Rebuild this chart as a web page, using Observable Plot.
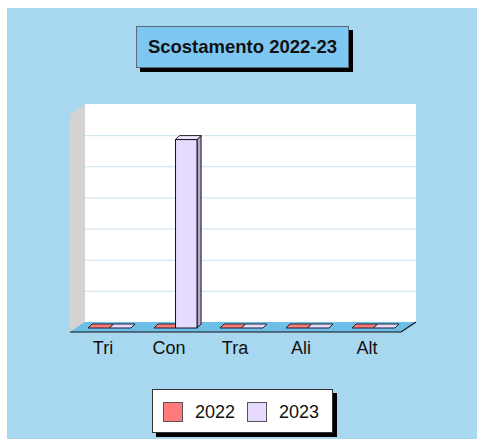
<!DOCTYPE html>
<html>
<head>
<meta charset="utf-8">
<script src="https://cdn.jsdelivr.net/npm/d3@7"></script>
<script src="https://cdn.jsdelivr.net/npm/@observablehq/plot@0.6"></script>
<style>
  html, body { margin: 0; padding: 0; background: #ffffff; }
  #page { position: relative; width: 477px; height: 439px; overflow: hidden; font-family: "Liberation Sans", Arial, sans-serif; }
  #panel { position: absolute; left: 7px; top: 8px; right: 0; bottom: 0; background: #A8D8EF; }
  #title { position: absolute; left: 136px; top: 26px; width: 211px; height: 40px; background: #7DC7F2;
           border: 1px solid #5a6a76; box-shadow: 4px 4px 0 #000; font-weight: bold; font-size: 18.5px;
           line-height: 40px; text-align: center; color: #111; }
  #chart { position: absolute; left: 0; top: 90px; }
  #legend { position: absolute; left: 152px; top: 389px; width: 179px; height: 42px; background: #fff;
            border: 1px solid #333; box-shadow: 4px 4px 0 #000; }
  .sw { position: absolute; top: 12px; width: 20px; height: 20px; border: 1px solid #555; box-sizing: border-box; }
  .lt { position: absolute; top: 11px; font-size: 18px; line-height: 22px; color: #111; }
</style>
</head>
<body>
<div id="page">
  <div id="panel"></div>
  <div id="title">Scostamento 2022-23</div>
  <div id="chart"></div>
  <div id="legend"></div>
</div>
<script>
// ---- data ----
const categories = ["Tri", "Con", "Tra", "Ali", "Alt"];
const values2022 = [0, 0, 0, 0, 0];
const values2023 = [0, 6.05, 0, 0, 0];
const seriesNames = ["2022", "2023"];
const gridTicks = [1, 2, 3, 4, 5, 6];
const yDomain = [0, 7];

// ---- styles ----
const fillColors = ["#FF7B7B", "#E6DBFF"];
const sideColors = ["#C95F5F", "#B6AAD2"];
const topColors  = ["#FF9A9A", "#EFE7FF"];

const W = 477, H = 280;
const mL = 76, mR = 70, mT = 20, mB = 42;
const PI = 0.348, PO = 0.18;
// band width replicated from the band scale parameters (for insets)
const step = (W - mL - mR) / (categories.length - PI + 2 * PO);
const bw = step * (1 - PI);

const BX = 9, BY = -6;   // back wall offset
const FX = -6, FY = 4;   // floor front offset
const DX = 4, DY = -4;   // bar depth

const rows = seriesNames.map((s, si) =>
  categories.map((c, i) => ({cat: c, series: s, si, v: si === 0 ? values2022[i] : values2023[i]})));

function walls(index, scales, values, dims) {
  const y = scales.y;
  const x0 = dims.marginLeft, x1 = dims.width - dims.marginRight;
  const yb = y(yDomain[0]), yt = y(yDomain[1]);
  const g = d3.create("svg:g");
  g.append("path")
    .attr("d", `M${x0+BX},${yt+BY}L${x0+BX},${yb+BY}L${x0+FX},${yb+FY}L${x0+FX},${yt+FY}Z`)
    .attr("fill", "#D3D3D3");
  g.append("rect").attr("x", x0 + BX).attr("y", yt + BY)
    .attr("width", x1 - x0).attr("height", yb - yt).attr("fill", "#ffffff");
  g.append("path")
    .attr("d", `M${x0+BX},${yb+BY}L${x1+BX},${yb+BY}L${x1+FX},${yb+FY}L${x0+FX},${yb+FY}Z`)
    .attr("fill", "#6DBFEA");
  g.append("path")
    .attr("d", `M${x0+FX},${yb+FY}L${x1+FX},${yb+FY}L${x1+BX},${yb+BY}`)
    .attr("fill", "none").attr("stroke", "#111").attr("stroke-width", 1.2);
  return g.node();
}

function bars3d(index, scales) {
  const x = scales.x, y = scales.y;
  const half = bw / 2;
  const g = d3.create("svg:g");
  categories.forEach((c, i) => {
    rows.forEach((r) => {
      const d = r[i];
      const xa = x(c) + d.si * half, xb = xa + half;
      const yt = y(d.v), yb = y(0);
      if (yb - yt > 0.5) {
        g.append("path")
          .attr("d", `M${xb},${yt}L${xb+DX},${yt+DY}L${xb+DX},${yb+DY}L${xb},${yb}Z`)
          .attr("fill", sideColors[d.si]).attr("stroke", "#111").attr("stroke-width", 1)
          .attr("stroke-linejoin", "round");
      }
      g.append("path")
        .attr("d", `M${xa},${yt}L${xa+DX},${yt+DY}L${xb+DX},${yt+DY}L${xb},${yt}Z`)
        .attr("fill", d.v > 0 ? topColors[d.si] : fillColors[d.si])
        .attr("stroke", "#222").attr("stroke-width", 1).attr("stroke-linejoin", "round");
    });
  });
  return g.node();
}

const chart = Plot.plot({
  width: W, height: H,
  marginLeft: mL, marginRight: mR, marginTop: mT, marginBottom: mB,
  style: {background: "transparent", overflow: "visible", fontFamily: "Liberation Sans, Arial, sans-serif"},
  x: {type: "band", domain: categories, paddingInner: PI, paddingOuter: PO},
  y: {domain: yDomain, axis: null},
  marks: [
    walls,
    Plot.ruleY(gridTicks, {stroke: "#CBE2ED", strokeWidth: 1, dx: BX, dy: BY}),
    bars3d,
    Plot.barY(rows[0], {x: "cat", y: "v", fill: fillColors[0], stroke: "#111", strokeWidth: 1, insetRight: bw / 2}),
    Plot.barY(rows[1], {x: "cat", y: "v", fill: fillColors[1], stroke: "#111", strokeWidth: 1, insetLeft: bw / 2}),
    Plot.axisX({tickSize: 0, tickPadding: 13, fontSize: 18, dx: -7, fill: "#111", label: null})
  ]
});
document.getElementById("chart").appendChild(chart);

// legend
const legend = d3.select("#legend");
const swX = [10, 94], txX = [42, 126];
seriesNames.forEach((s, i) => {
  legend.append("div").attr("class", "sw").style("left", swX[i] + "px").style("background", fillColors[i]);
  legend.append("div").attr("class", "lt").style("left", txX[i] + "px").text(s);
});
</script>
</body>
</html>
